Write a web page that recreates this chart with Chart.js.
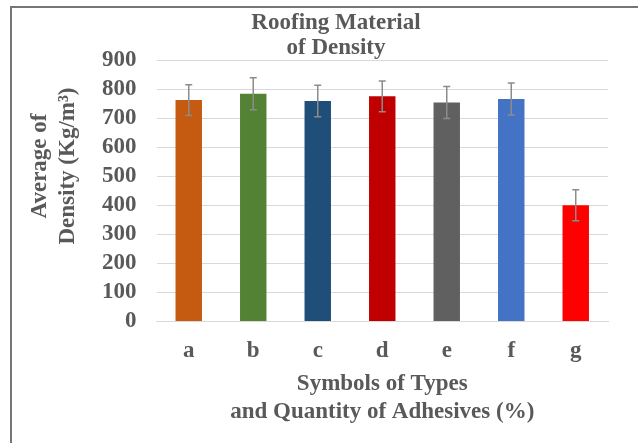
<!DOCTYPE html>
<html>
<head>
<meta charset="utf-8">
<script src="https://cdn.jsdelivr.net/npm/chart.js@4.4.0/dist/chart.umd.min.js"></script>
<style>
  html, body { margin: 0; padding: 0; background: #fff; }
  #wrap { position: relative; width: 638px; height: 443px; }
  #frame {
    position: absolute; left: 10px; top: 6px; right: 0; bottom: 0;
    border-top: 2px solid #767676; border-left: 2px solid #767676;
    pointer-events: none;
  }
</style>
</head>
<body>
<div id="wrap">
  <canvas id="densityChart" width="638" height="443"></canvas>
  <div id="frame"></div>
</div>
<script>
// Chart data
const symbols = ['a', 'b', 'c', 'd', 'e', 'f', 'g'];
const avgDensity = [762, 784, 759, 775, 754, 766, 400];
const densityError = [53, 55, 54, 53, 55, 55, 53];
const barColors = ['#C55A11', '#548235', '#1F4E79', '#C00000', '#606060', '#4472C4', '#FF0000'];
const yTicks = [0, 100, 200, 300, 400, 500, 600, 700, 800, 900];
const chartTitle = ['Roofing Material', 'of Density'];
const yTitle = ['Average of', 'Density (Kg/m\u00B3)'];

const textColor = '#595959';
const fontFamily = '"Liberation Serif", "Times New Roman", serif';

// Draws the error bars on top of each bar
const errorBarPlugin = {
    id: 'errorBars',
    afterDatasetsDraw(chart) {
        const ctx = chart.ctx;
        const yScale = chart.scales.y;
        const meta = chart.getDatasetMeta(0);
        ctx.save();
        ctx.strokeStyle = '#8c8c8c';
        ctx.lineWidth = 1.5;
        meta.data.forEach((bar, i) => {
            const v = avgDensity[i];
            const e = densityError[i];
            const yTop = yScale.getPixelForValue(v + e);
            const yBot = yScale.getPixelForValue(v - e);
            const x = bar.x;
            ctx.beginPath();
            ctx.moveTo(x, yTop);
            ctx.lineTo(x, yBot);
            ctx.moveTo(x - 3.5, yTop);
            ctx.lineTo(x + 3.5, yTop);
            ctx.moveTo(x - 3.5, yBot);
            ctx.lineTo(x + 3.5, yBot);
            ctx.stroke();
        });
        ctx.restore();
    }
};

// Chart title and y title are placed by hand: in the original they sit
// off-centre (title left of the plot centre, y title above the axis middle)
const titlePlugin = {
    id: 'sideTitles',
    afterDraw(chart) {
        const ctx = chart.ctx;
        ctx.save();
        ctx.fillStyle = textColor;
        ctx.font = 'bold 23px ' + fontFamily;
        ctx.textAlign = 'center';
        ctx.textBaseline = 'middle';
        chartTitle.forEach((line, i) => {
            ctx.fillText(line, 336, 23 + i * 25);
        });
        ctx.translate(0, 166);
        ctx.rotate(-Math.PI / 2);
        yTitle.forEach((line, i) => {
            ctx.fillText(line, 0, 40 + i * 28);
        });
        ctx.restore();
    }
};

const ctx = document.getElementById('densityChart').getContext('2d');
new Chart(ctx, {
    type: 'bar',
    data: {
        labels: symbols,
        datasets: [{
            data: avgDensity,
            backgroundColor: barColors,
            borderWidth: 0,
            categoryPercentage: 1,
            barPercentage: 0.41
        }]
    },
    options: {
        responsive: false,
        animation: false,
        layout: {
            padding: { left: 82, right: 30, top: 60, bottom: 17 }
        },
        plugins: {
            legend: { display: false },
            tooltip: { enabled: false },
            title: { display: false }
        },
        scales: {
            x: {
                grid: { display: false, drawTicks: false },
                border: { color: '#d9d9d9', width: 1 },
                ticks: {
                    color: textColor,
                    padding: 16,
                    autoSkip: false,
                    maxRotation: 0,
                    font: { family: fontFamily, size: 23, weight: 'bold', lineHeight: 1.2 }
                },
                title: {
                    display: true,
                    text: ['Symbols of Types', 'and Quantity of Adhesives (%)'],
                    color: textColor,
                    font: { family: fontFamily, size: 23, weight: 'bold', lineHeight: 1.217 },
                    padding: { top: -11, bottom: 0 }
                }
            },
            y: {
                min: 0,
                max: 900,
                afterBuildTicks(scale) {
                    scale.ticks = yTicks.map(v => ({ value: v }));
                },
                grid: { color: '#d9d9d9', drawTicks: false },
                border: { display: false },
                ticks: {
                    color: textColor,
                    padding: 20,
                    autoSkip: false,
                    font: { family: fontFamily, size: 23, weight: 'bold', lineHeight: 1.2 }
                },
                title: { display: false }
            }
        }
    },
    plugins: [errorBarPlugin, titlePlugin]
});
</script>
</body>
</html>
